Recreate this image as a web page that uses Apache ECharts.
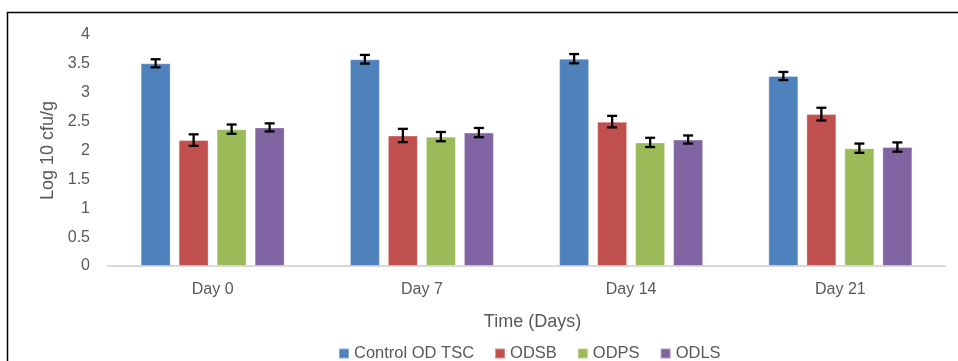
<!DOCTYPE html>
<html><head><meta charset="utf-8">
<script src="https://cdn.jsdelivr.net/npm/echarts@6/dist/echarts.min.js"></script>
<style>html,body{margin:0;padding:0;background:#fff}#c{width:958px;height:361px}</style>
</head><body><div id="c"></div>
<script>
const categories = ['Day 0', 'Day 7', 'Day 14', 'Day 21'];
const seriesNames = ['Control OD TSC', 'ODSB', 'ODPS', 'ODLS'];
const controlOD = [3.51, 3.58, 3.59, 3.29];
const odsb = [2.18, 2.26, 2.50, 2.63];
const odps = [2.37, 2.24, 2.14, 2.04];
const odls = [2.40, 2.31, 2.19, 2.06];
const controlErr = [0.07, 0.075, 0.08, 0.07];
const odsbErr = [0.10, 0.115, 0.10, 0.11];
const odpsErr = [0.08, 0.08, 0.08, 0.08];
const odlsErr = [0.07, 0.08, 0.07, 0.08];
const yTicks = [0, 0.5, 1, 1.5, 2, 2.5, 3, 3.5, 4];

const colors = ['#4F81BD', '#C0504D', '#9BBB59', '#8064A2'];
const values = [controlOD, odsb, odps, odls];
const errs = [controlErr, odsbErr, odpsErr, odlsErr];
const BW = 30, GAP = 8;
const font = 'Liberation Sans, Arial, sans-serif';

const series = [];
values.forEach((v, i) => {
  series.push({
    name: seriesNames[i], type: 'bar', data: v, barWidth: BW, barGap: (GAP / BW * 100) + '%',
    itemStyle: { color: colors[i], borderColor: 'rgba(255,255,255,0.35)', borderWidth: 1 }
  });
});
values.forEach((v, i) => {
  series.push({
    type: 'custom', silent: true, z: 10,
    data: v.map((val, k) => [k, val, errs[i][k]]),
    renderItem: function (params, api) {
      const k = api.value(0), val = api.value(1), e = api.value(2);
      const off = (i - 1.5) * (BW + GAP);
      const top = api.coord([k, val + e]);
      const bot = api.coord([k, val - e]);
      const x = top[0] + off;
      const cap = 5;
      const st = { stroke: '#000', lineWidth: 2.3 };
      return { type: 'group', children: [
        { type: 'line', shape: { x1: x, y1: top[1], x2: x, y2: bot[1] }, style: st },
        { type: 'line', shape: { x1: x - cap, y1: top[1], x2: x + cap, y2: top[1] }, style: st },
        { type: 'line', shape: { x1: x - cap, y1: bot[1], x2: x + cap, y2: bot[1] }, style: st }
      ]};
    }
  });
});

const chart = echarts.init(document.getElementById('c'));
chart.setOption({
  animation: false,
  textStyle: { fontFamily: font },
  graphic: [{ type: 'rect', shape: { x: 7.5, y: 12.5, width: 1000, height: 400 },
    style: { fill: 'none', stroke: '#000', lineWidth: 1.5 }, silent: true }],
  grid: { left: 108, right: 13, top: 35, bottom: 95 },
  legend: {
    data: seriesNames, top: 340, left: 333, itemWidth: 10, itemHeight: 10, itemGap: 20,
    icon: 'rect', textStyle: { color: '#595959', fontSize: 16.5, fontFamily: font }
  },
  xAxis: {
    type: 'category', data: categories,
    name: 'Time (Days)', nameLocation: 'middle', nameGap: 47,
    nameTextStyle: { color: '#595959', fontSize: 18, fontFamily: font, padding: [0, 0, 0, 12] },
    axisLine: { lineStyle: { color: '#D9D9D9', width: 2 } },
    axisTick: { show: false },
    axisLabel: { color: '#595959', fontSize: 16, margin: 16, fontFamily: font }
  },
  yAxis: {
    type: 'value', min: 0, max: 4, interval: 0.5,
    name: 'Log 10 cfu/g', nameLocation: 'middle', nameGap: 51, nameRotate: 90,
    nameTextStyle: { color: '#595959', fontSize: 18, fontFamily: font },
    splitLine: { show: false }, axisLine: { show: false }, axisTick: { show: false },
    axisLabel: { color: '#595959', fontSize: 16, margin: 18, fontFamily: font,
      formatter: v => yTicks.includes(v) ? String(v) : '' }
  },
  series: series
});
</script></body></html>
